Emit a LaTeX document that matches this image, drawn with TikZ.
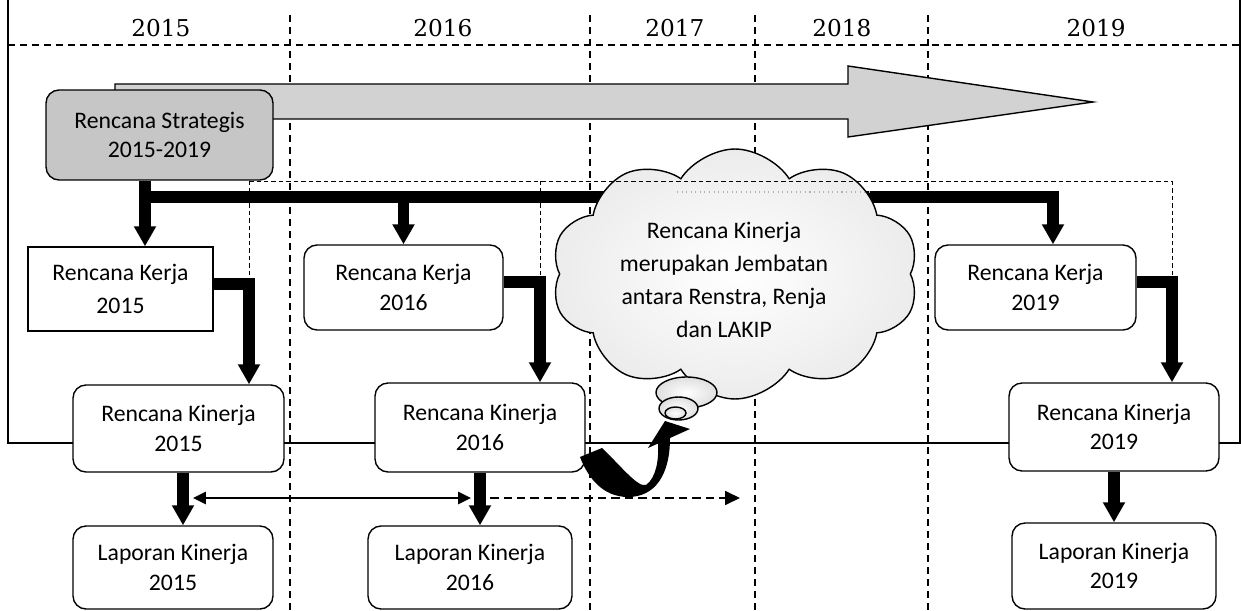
\documentclass[tikz,border=0pt]{standalone}
\usepackage{fontspec}
\newfontfamily\calib{Carlito}
\newfontfamily\yearfont{DejaVu Serif}
\usetikzlibrary{arrows.meta,shapes.symbols,shapes.geometric}

\begin{document}
\begin{tikzpicture}[x=0.02cm,y=-0.02cm,
  frame/.style={line width=0.7pt},
  yeardash/.style={line width=0.75pt, dash pattern=on 0.15cm off 0.09cm},
  thindash/.style={line width=0.5pt, dash pattern=on 0.09cm off 0.06cm},
  yearlabel/.style={anchor=base, inner sep=0pt, font=\yearfont\fontsize{13.2pt}{15pt}\selectfont},
  box/.style={draw, line width=0.8pt, fill=white, rounded corners=0.26cm, inner sep=0pt, align=center},
  txtA/.style={font=\calib\fontsize{13.5pt}{18.7pt}\selectfont},
  txtB/.style={font=\calib\fontsize{13.5pt}{16.8pt}\selectfont},
  bigline/.style={line width=6.3pt},
  bigarrow/.style={line width=6.3pt, -{Triangle[width=0.42cm,length=0.40cm]}},
  thinarrow/.style={line width=1pt, {Triangle[width=0.25cm,length=0.26cm]}-{Triangle[width=0.25cm,length=0.26cm]}},
  dasharrow/.style={line width=1pt, dash pattern=on 0.17cm off 0.1cm, -{Triangle[width=0.28cm,length=0.3cm]}},
  puff/.style={ellipse, draw, line width=0.8pt, inner sep=0pt, shade, inner color=white, outer color=gray!25},
]
\useasboundingbox (0,0) rectangle (1241,611);

% outer frame, open at the top
\draw[frame] (8,-5) -- (8,443) -- (1240,443) -- (1240,-5);

% year columns
\draw[yeardash] (8,45) -- (1241,45);
\foreach \xx in {290,590,755,928}
  \draw[yeardash] (\xx,15) -- (\xx,611);
\node[yearlabel] (y15) at (161,37) {2015};
\node[yearlabel] (y16) at (443,37) {2016};
\node[yearlabel] (y17) at (675,37) {2017};
\node[yearlabel] (y18) at (842,37) {2018};
\node[yearlabel] (y19) at (1096,37) {2019};

% long grey arrow spanning the plan period
\draw[line width=0.8pt, fill=gray!35] (115,84) -- (848,84) -- (848,66) -- (1093,102)
  -- (848,137) -- (848,119) -- (115,119) -- cycle;

% boxes
\node[box, txtB, fill=gray!45, minimum width=4.54cm, minimum height=1.8cm] (strat) at (159.5,135)
  {Rencana Strategis\\2015-2019};
\node[box, txtA, sharp corners, minimum width=3.70cm, minimum height=1.68cm] (rk15) at (120.5,289)
  {Rencana Kerja\\2015};
\node[box, txtB, minimum width=3.98cm, minimum height=1.70cm] (rk16) at (403.5,287.5)
  {Rencana Kerja\\2016};
\node[box, txtB, minimum width=4.02cm, minimum height=1.70cm] (rk19) at (1035.5,287.5)
  {Rencana Kerja\\2019};
\node[box, txtB, minimum width=4.22cm, minimum height=1.74cm] (rkin15) at (178.5,428.5)
  {Rencana Kinerja\\2015};
\node[box, txtB, minimum width=4.20cm, minimum height=1.78cm] (rkin16) at (480,427.5)
  {Rencana Kinerja\\2016};
\node[box, txtB, minimum width=4.20cm, minimum height=1.76cm] (rkin19) at (1114,427)
  {Rencana Kinerja\\2019};
\node[box, txtB, minimum width=4.00cm, minimum height=1.66cm] (lap15) at (173,567.5)
  {Laporan Kinerja\\2015};
\node[box, txtB, minimum width=4.08cm, minimum height=1.66cm] (lap16) at (470,567.5)
  {Laporan Kinerja\\2016};
\node[box, txtB, minimum width=4.08cm, minimum height=1.72cm] (lap19) at (1114,566)
  {Laporan Kinerja\\2019};

% helper points for the connectors
\coordinate (bus) at (145,197);
\coordinate (b19) at (1053,197);
\coordinate (e15) at (249,0);
\coordinate (e16) at (540,0);
\coordinate (e19) at (1172,0);
\coordinate (dtop) at (0,181);
\coordinate (a15) at (183,0);

% distribution bus from the strategic plan
\draw[bigline, line cap=rect] (bus) -- (b19);
\draw[bigarrow] (strat.south -| bus) -- (rk15.north -| bus);
\draw[bigarrow] (bus -| rk16.north) -- (rk16.north);
\draw[bigarrow] (b19) -- (rk19.north -| b19);

% work plan -> performance plan
\draw[bigarrow] ([yshift=0.1cm]rk15.east) -| (rkin15.north -| e15);
\draw[bigarrow] ([yshift=0.11cm]rk16.east) -| (rkin16.north -| e16);
\draw[bigarrow] ([yshift=0.11cm]rk19.east) -| (rkin19.north -| e19);

% performance plan -> performance report
\draw[bigarrow] (rkin15.south -| a15) -- (lap15.north -| a15);
\draw[bigarrow] (rkin16.south) -- (lap16.north -| rkin16.south);
\draw[bigarrow] (rkin19.south) -- (lap19.north -| rkin19.south);

% thought cloud
\node[cloud, draw, line width=0.8pt, cloud puffs=10, cloud puff arc=115, aspect=1.7,
      minimum width=7.35cm, minimum height=5.0cm, inner sep=0pt,
      shade, inner color=white, outer color=gray!15] (cloud) at (735,274) {};
\node[puff, minimum width=1.22cm, minimum height=0.62cm] (p1) at (686.5,392.5) {};
\node[puff, minimum width=0.78cm, minimum height=0.46cm] (p2) at (678.5,408.5) {};
\node[puff, minimum width=0.42cm, minimum height=0.24cm] (p3) at (675.5,413) {};
\draw[gray!60, line width=0.6pt, dotted] (677,192) -- (870,192);
\node[align=center, inner sep=0pt, font=\calib\fontsize{13.5pt}{18.9pt}\selectfont] (cloudtext) at (724,280)
  {Rencana Kinerja\\merupakan Jembatan\\antara Renstra, Renja\\dan LAKIP};

% thin dashed guide lines
\draw[thindash] (e15 |- dtop) -- (e19 |- dtop);
\draw[thindash] (e15 |- dtop) -- ([yshift=0.1cm]rk15.east -| e15);
\draw[thindash] (e16 |- dtop) -- ([yshift=0.11cm]rk16.east -| e16);
\draw[thindash] (e19 |- dtop) -- ([yshift=0.11cm]rk19.east -| e19);

% curved arrow from the 2016 performance plan to the cloud
\fill (602,448) .. controls (620,465) and (638,488) .. (646,485)
  .. controls (656,478) and (659,460) .. (658,443.5) -- (648,448) -- (665,421) -- (690,429)
  -- (670,438) .. controls (670,475) and (655,497) .. (628,497)
  .. controls (603,497) and (588,478) .. (580,457) -- cycle;

% links between the reports
\coordinate (h1) at (193,498);
\coordinate (h2) at (471,498);
\coordinate (h3) at (490,498);
\coordinate (h4) at (740,498);
\draw[thinarrow] (h1) -- (h2);
\draw[dasharrow] (h3) -- (h4);
\end{tikzpicture}
\end{document}
